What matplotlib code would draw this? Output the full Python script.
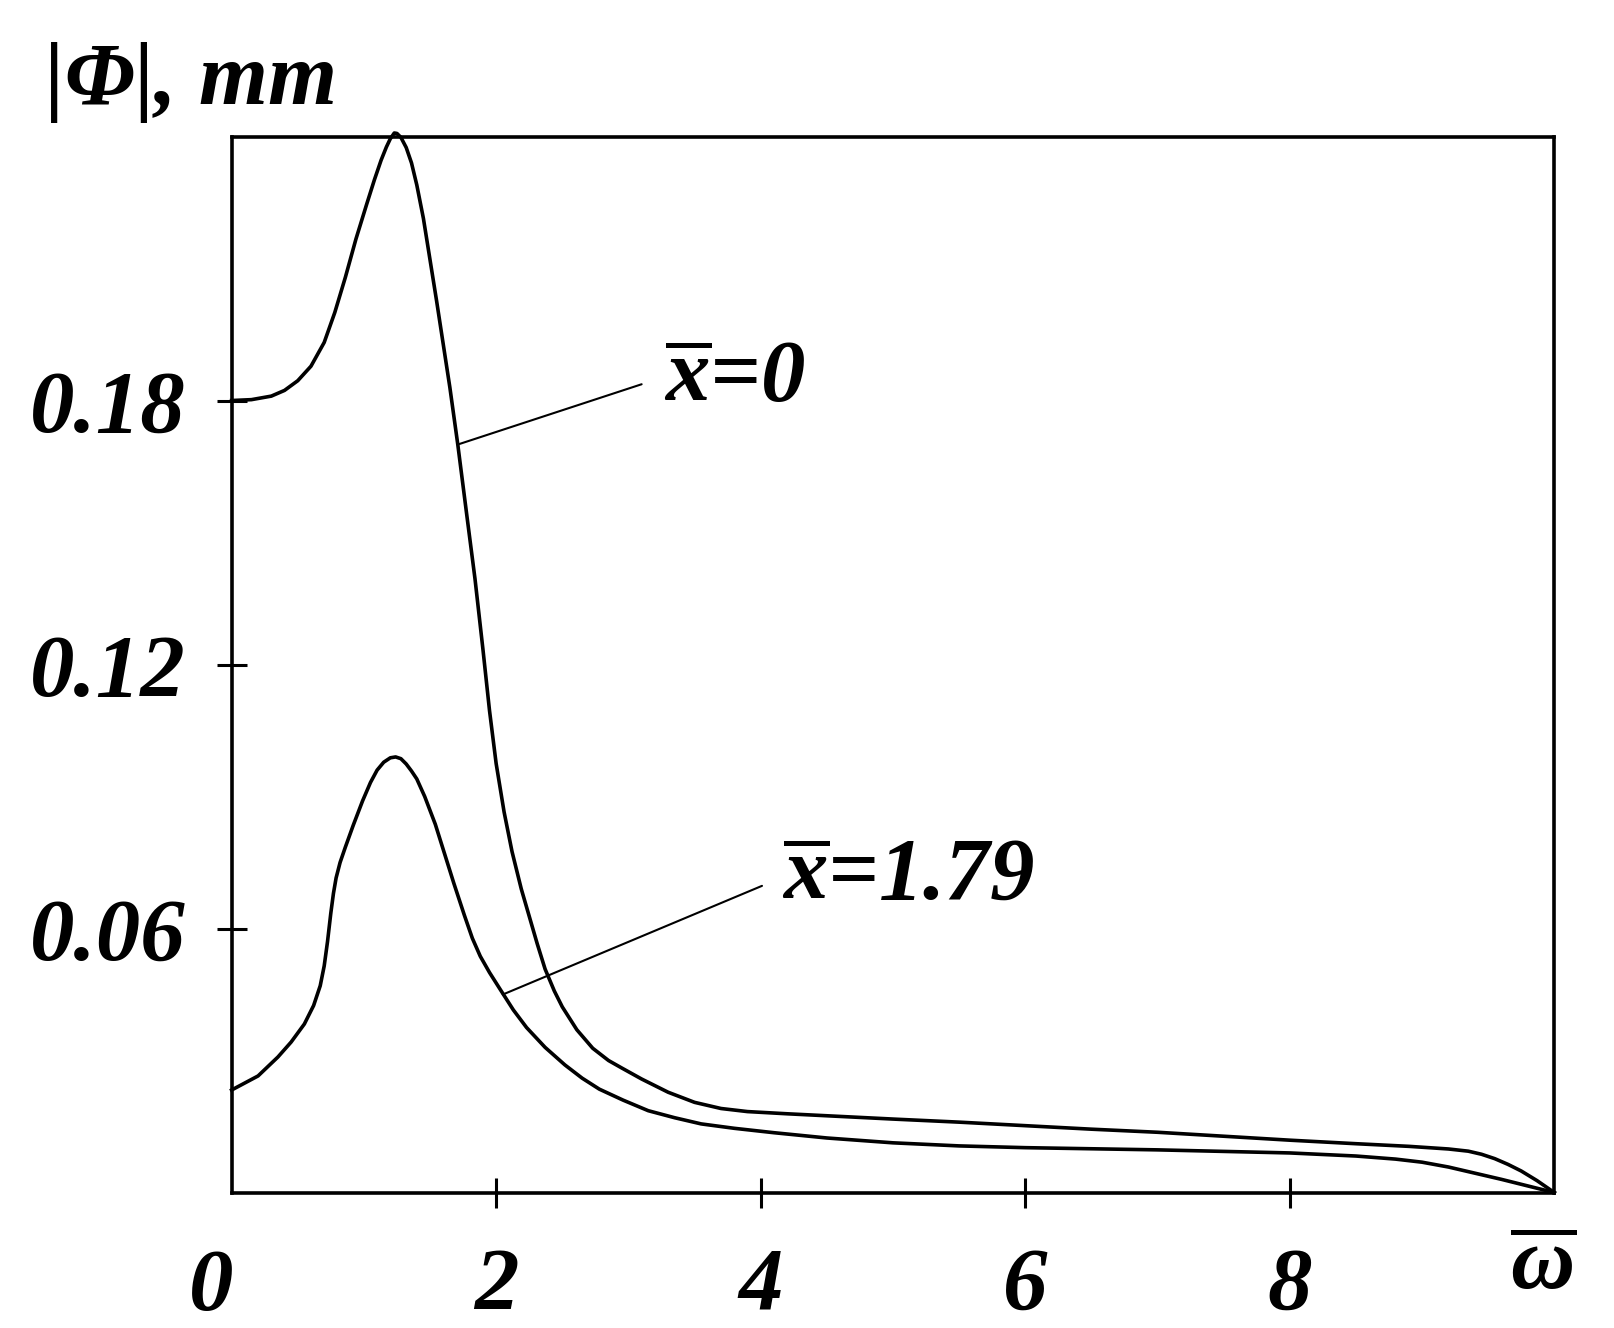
import matplotlib
matplotlib.use("Agg")
import matplotlib.pyplot as plt

# --- odczytane dane ---
omega_x0 = [0, 0.15, 0.3, 0.4, 0.5, 0.6, 0.7, 0.78, 0.86, 0.94, 1.02, 1.08, 1.13,
            1.17, 1.20, 1.23, 1.25, 1.28, 1.32, 1.36, 1.40, 1.45, 1.50, 1.55,
            1.65, 1.71, 1.78, 1.84, 1.90, 1.95, 2.00, 2.06, 2.12, 2.19, 2.25,
            2.31, 2.37, 2.44, 2.50, 2.61, 2.73, 2.85, 2.95, 3.10, 3.30, 3.50,
            3.70, 3.90, 4.2, 4.6, 5.0, 5.5, 6.0, 6.5, 7.0, 7.5, 8.0, 8.5, 8.9,
            9.2, 9.35, 9.45, 9.55, 9.65, 9.75, 9.87, 10.0]
phi_x0 = [0.1800, 0.1802, 0.1810, 0.1823, 0.1845, 0.1878, 0.1932, 0.2000, 0.2080,
          0.2167, 0.2245, 0.2302, 0.2346, 0.2376, 0.2395, 0.2408, 0.2407, 0.2398,
          0.2375, 0.2340, 0.2290, 0.2214, 0.2120, 0.2026, 0.1830, 0.1700, 0.1535,
          0.1395, 0.1235, 0.1095, 0.0975, 0.0865, 0.0775, 0.0690, 0.0628, 0.0566,
          0.0508, 0.0458, 0.0422, 0.0370, 0.0328, 0.0300, 0.0283, 0.0258, 0.0228,
          0.0205, 0.0191, 0.0184, 0.0179, 0.0173, 0.0167, 0.0160, 0.0152, 0.0144,
          0.0137, 0.0128, 0.0119, 0.0111, 0.0105, 0.0099, 0.0094, 0.0087, 0.0077,
          0.0064, 0.0049, 0.0027, 0.0]

omega_x179 = [0, 0.2, 0.35, 0.45, 0.55, 0.62, 0.67, 0.70, 0.725, 0.75, 0.77, 0.79,
              0.82, 0.86, 0.92, 0.99, 1.05, 1.10, 1.15, 1.20, 1.24, 1.28, 1.32,
              1.36, 1.40, 1.46, 1.54, 1.61, 1.68, 1.76, 1.82, 1.88, 1.95, 2.03,
              2.13, 2.23, 2.37, 2.52, 2.65, 2.78, 2.96, 3.15, 3.35, 3.55, 3.8,
              4.1, 4.5, 5.0, 5.5, 6.0, 7.0, 8.0, 8.5, 8.8, 9.0, 9.2, 9.4, 9.6,
              9.8, 10.0]
phi_x179 = [0.0233, 0.0265, 0.0308, 0.0342, 0.0383, 0.0425, 0.0470, 0.0515, 0.0570,
            0.0635, 0.0680, 0.0715, 0.0750, 0.0785, 0.0835, 0.0890, 0.0932, 0.0960,
            0.0978, 0.0988, 0.0990, 0.0986, 0.0974, 0.0958, 0.0940, 0.0900, 0.0837,
            0.0770, 0.0703, 0.0630, 0.0578, 0.0537, 0.0500, 0.0462, 0.0415, 0.0375,
            0.0330, 0.0290, 0.0260, 0.0235, 0.0210, 0.0186, 0.0170, 0.0156, 0.0146,
            0.0136, 0.0124, 0.0113, 0.0106, 0.0102, 0.0097, 0.0090, 0.0083, 0.0076,
            0.0069, 0.0058, 0.0044, 0.0030, 0.0015, 0.0]

x_ticks = [2, 4, 6, 8]
x_tick_labels = ["2", "4", "6", "8"]
y_ticks = [0.06, 0.12, 0.18]
y_tick_labels = ["0.06", "0.12", "0.18"]

labels = [r"$\overline{x}$=0", r"$\overline{x}$=1.79"]
label_pos = [(3.27, 0.180), (4.16, 0.0668)]
leader_on_curve = [(1.71, 0.170), (2.05, 0.045)]
leader_end = [(3.10, 0.1837), (4.01, 0.0697)]

FONT = "Liberation Serif"
plt.rcParams["font.family"] = FONT
plt.rcParams["mathtext.fontset"] = "custom"
plt.rcParams["mathtext.it"] = "Liberation Serif:bold:italic"
plt.rcParams["mathtext.rm"] = "Liberation Serif:bold:italic"
plt.rcParams["mathtext.bf"] = "Liberation Serif:bold:italic"

FS = 64
LW = 2.6
txt = dict(fontsize=FS, fontweight="bold", fontstyle="italic")

fig = plt.figure(figsize=(16.14, 13.28), dpi=100)
ax = fig.add_axes([0.1435, 0.1020, 0.8195, 0.7952])

ax.plot(omega_x0, phi_x0, color="black", lw=LW, clip_on=False,
        solid_joinstyle="round")
ax.plot(omega_x179, phi_x179, color="black", lw=LW, clip_on=False,
        solid_joinstyle="round")

ax.set_xlim(0, 10)
ax.set_ylim(0, 0.24)

for s in ax.spines.values():
    s.set_linewidth(LW)

ax.set_xticks(x_ticks)
ax.set_xticklabels(x_tick_labels, **txt)
ax.set_yticks(y_ticks)
ax.set_yticklabels(y_tick_labels, **txt)
ax.tick_params(axis="both", direction="inout", length=22, width=2.2)
ax.tick_params(axis="x", pad=28)
ax.tick_params(axis="y", pad=22)

# "0" i omega pod osia
ax.annotate("0", xy=(0, 0), xycoords="data", xytext=(-15, -40),
            textcoords="offset points", ha="center", va="top",
            annotation_clip=False, **txt)
ax.annotate(r"$\overline{\omega}$", xy=(10, 0), xycoords="data", xytext=(-8, -70),
            textcoords="offset points", ha="center", va="baseline",
            annotation_clip=False, fontsize=FS)

# podpisy krzywych z liniami
for lab, pos, p_on, p_end in zip(labels, label_pos, leader_on_curve, leader_end):
    ax.annotate("", xy=p_on, xytext=p_end,
                arrowprops=dict(arrowstyle="-", lw=1.5, color="black",
                                shrinkA=0, shrinkB=0))
    ax.text(pos[0], pos[1], lab, ha="left", va="baseline", **txt)

fig.text(0.028, 0.922, "|Φ|, mm", ha="left", va="baseline", **txt)

fig.savefig("out.png", dpi=100)
